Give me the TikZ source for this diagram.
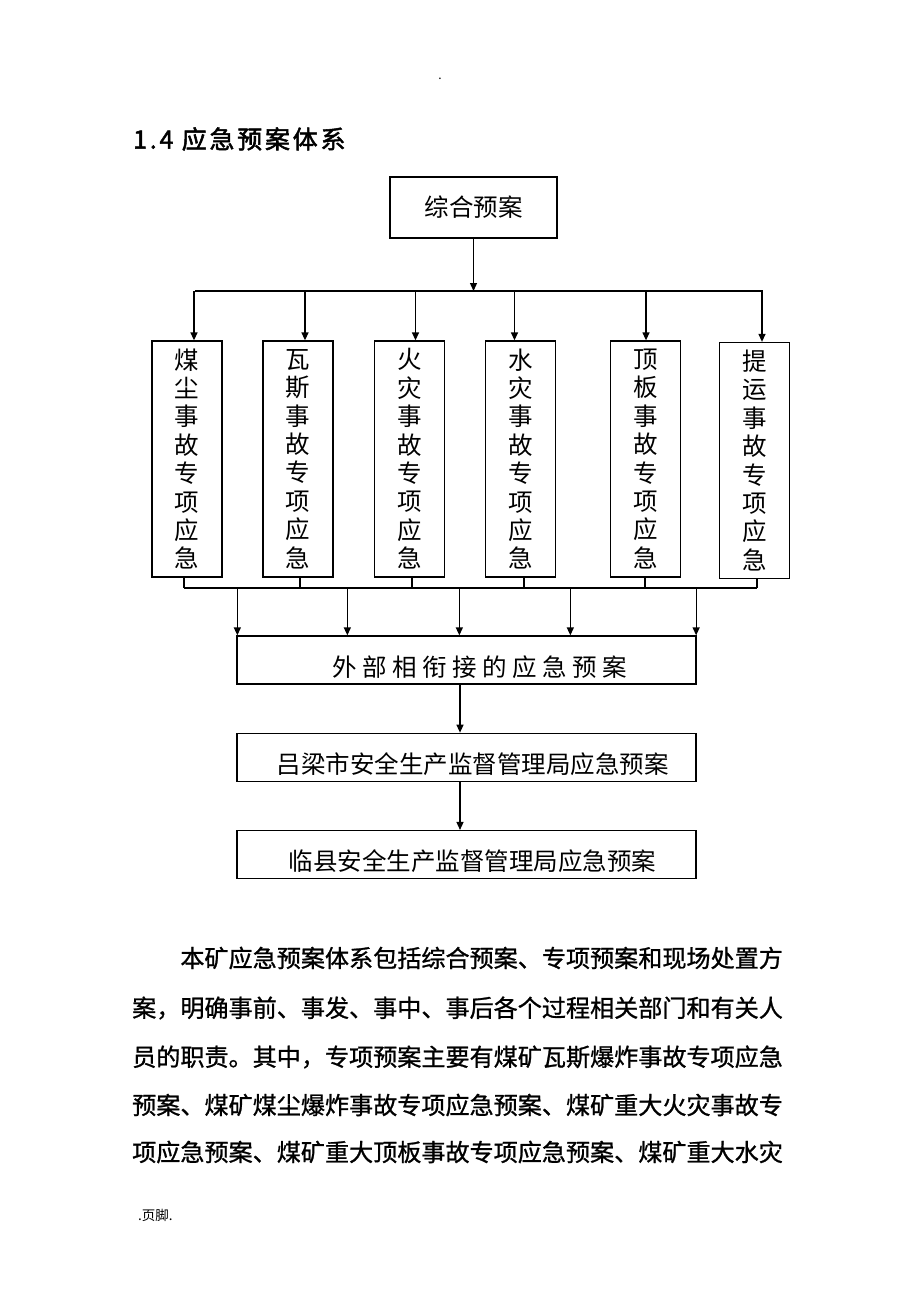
\documentclass[tikz,border=0pt]{standalone}
\usepackage{fontspec}
\setmainfont{Noto Sans CJK SC}
\newfontfamily\titlefont[FakeBold=2,LetterSpace=11]{Noto Sans CJK SC}
\newfontfamily\parafont[FakeBold=1]{Noto Sans CJK SC}
\usetikzlibrary{arrows.meta,positioning}

\begin{document}
\begin{tikzpicture}[x=1pt, y=-1pt, node distance={48pt}, >={Triangle[length=8pt,width=7pt]},
	main/.style = {draw, line width=1.3pt, inner sep=0pt, font=\fontsize{24.5}{28.4}\selectfont},
	tall/.style = {main, minimum width=70pt, minimum height=236pt, align=center},
	wide/.style = {main, minimum width=459pt, minimum height=48pt, text height=34pt, text depth=2pt},
	para/.style = {anchor=west, inner sep=0pt, font=\parafont\fontsize{24.1}{24.1}\selectfont},
	line/.style = {line width=1.3pt}]
			\useasboundingbox (0,0) rectangle (920,1302);
			\node (dot) at (440,79) {\fontsize{12}{12}\selectfont .};
			\node[anchor=west, inner sep=0pt] (title) at (133,139) {\titlefont\fontsize{25}{25}\selectfont 1.4 应急预案体系};
			\node[main, minimum width=167pt, minimum height=61pt] (1) at (473.5,207.5) {综合预案};
			\node[tall] (2) at (187,459) {煤\\尘\\事\\故\\专\\项\\应\\急};
			\node[tall] (3) at (298,459) {瓦\\斯\\事\\故\\专\\项\\应\\急};
			\node[tall] (4) at (409.5,459) {火\\灾\\事\\故\\专\\项\\应\\急};
			\node[tall] (5) at (520.5,459) {水\\灾\\事\\故\\专\\项\\应\\急};
			\node[tall] (6) at (645.5,459) {顶\\板\\事\\故\\专\\项\\应\\急};
			\node[tall] (7) at (754.5,460.5) {提\\运\\事\\故\\专\\项\\应\\急};
			\node[wide] (8) at (466.5,660) {\hspace*{27pt}外 部 相 衔 接 的 应 急 预 案};
			\node[wide] (9) [below=of 8] {\hspace*{12pt}吕梁市安全生产监督管理局应急预案};
			\node[wide] (10) [below=of 9] {\hspace*{12pt}临县安全生产监督管理局应急预案};
			\coordinate (t1) at (195,291);
			\coordinate (t2) at (763,291);
			\coordinate (b1) at (184,588);
			\coordinate (b2) at (757,588);
			\draw[line] (t1) -- (t2);
			\draw[line] (b1) -- (b2);
			\draw[line,->] (1) -- (1 |- t1);
			\foreach \n/\s in {2/7,3/7,4/6,5/-6,6/0.5,7/7.5}
				\draw[line,->] ([xshift=\s pt]\n.north |- t1) -- ([xshift=\s pt]\n.north);
			\foreach \n/\s in {2/-3,3/2,4/2.5,5/3.5,6/-0.5,7/2.5}
				\draw[line] ([xshift=\s pt]\n.south) -- ([xshift=\s pt]\n.south |- b1);
			\foreach \s in {1,111,223,334}
				\draw[line,->] ([xshift=\s pt]8.north west |- b1) -- ([xshift=\s pt]8.north west);
			\draw[line,->] ([xshift=-0.5pt]8.north east |- b1) -- ([xshift=-0.5pt]8.north east);
			\draw[line,->] ([xshift=-6.5pt]8.south) -- ([xshift=-6.5pt]9.north);
			\draw[line,->] ([xshift=-6.5pt]9.south) -- ([xshift=-6.5pt]10.north);
			\node[para] (p1) at (180.2,958) {本矿应急预案体系包括综合预案、专项预案和现场处置方};
			\node[para] (p2) at (132,1008) {案，明确事前、事发、事中、事后各个过程相关部门和有关人};
			\node[para] (p3) at (132,1057) {员的职责。其中，专项预案主要有煤矿瓦斯爆炸事故专项应急};
			\node[para] (p4) at (132,1105) {预案、煤矿煤尘爆炸事故专项应急预案、煤矿重大火灾事故专};
			\node[para] (p5) at (132,1152) {项应急预案、煤矿重大顶板事故专项应急预案、煤矿重大水灾};
			\node[anchor=west, inner sep=0pt, font=\fontsize{13.5}{13.5}\selectfont] (foot) at (138,1215) {.页脚.};
		\end{tikzpicture}
\end{document}
